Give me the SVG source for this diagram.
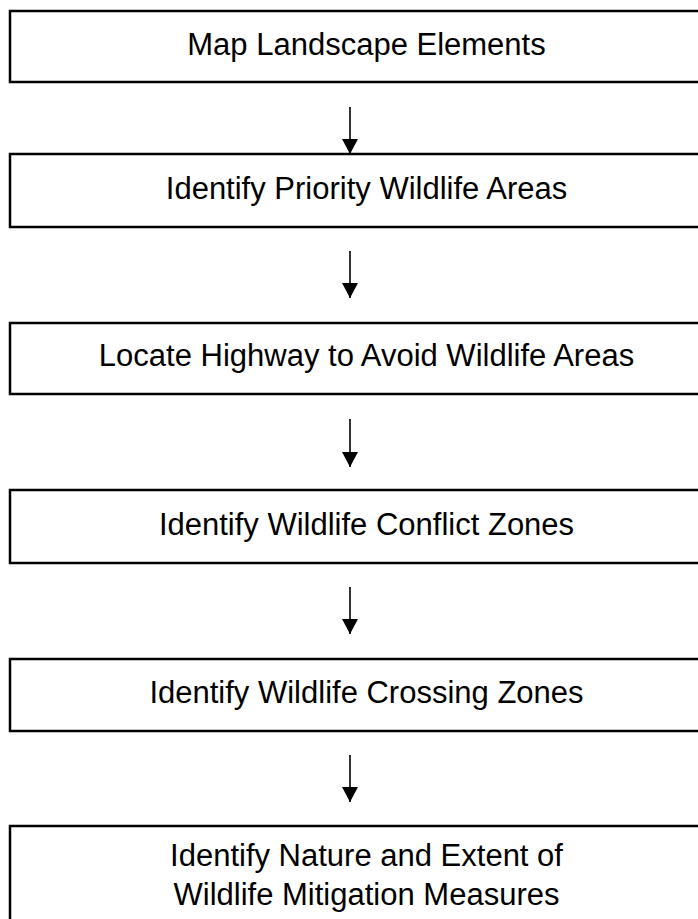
<svg xmlns="http://www.w3.org/2000/svg" width="698" height="919" viewBox="0 0 698 919">
<style>
.box{fill:#fff;stroke:#000;stroke-width:2.5}
.lbl{font-family:"Liberation Sans",Arial,sans-serif;font-size:31px;fill:#000;text-anchor:middle}
.conn{stroke:#000;stroke-width:1.6;fill:none}
</style>
<defs>
<marker id="ah" markerUnits="userSpaceOnUse" markerWidth="16" markerHeight="16" viewBox="0 0 16 16" refX="15" refY="8" orient="auto">
<path d="M0,0 L15,8 L0,16 Z" fill="#000"/>
</marker>
</defs>
<rect width="698" height="919" fill="#fff"/>
<g id="n1"><rect class="box" x="10" y="11" width="720" height="71"/><text class="lbl" x="366.5" y="55">Map Landscape Elements</text></g>
<g id="n2"><rect class="box" x="10" y="154" width="720" height="73"/><text class="lbl" x="366.5" y="199">Identify Priority Wildlife Areas</text></g>
<g id="n3"><rect class="box" x="10" y="323" width="720" height="71"/><text class="lbl" x="366.5" y="366">Locate Highway to Avoid Wildlife Areas</text></g>
<g id="n4"><rect class="box" x="10" y="490" width="720" height="73"/><text class="lbl" x="366.5" y="535">Identify Wildlife Conflict Zones</text></g>
<g id="n5"><rect class="box" x="10" y="659" width="720" height="72"/><text class="lbl" x="366.5" y="703">Identify Wildlife Crossing Zones</text></g>
<g id="n6"><rect class="box" x="10" y="826" width="720" height="120"/><text class="lbl" x="366.5" y="866">Identify Nature and Extent of</text><text class="lbl" x="366.5" y="905">Wildlife Mitigation Measures</text></g>
<g id="connectors">
<line class="conn" x1="350" y1="107" x2="350" y2="154" marker-end="url(#ah)"/>
<line class="conn" x1="350" y1="251" x2="350" y2="298" marker-end="url(#ah)"/>
<line class="conn" x1="350" y1="419" x2="350" y2="467" marker-end="url(#ah)"/>
<line class="conn" x1="350" y1="587" x2="350" y2="634" marker-end="url(#ah)"/>
<line class="conn" x1="350" y1="755" x2="350" y2="802" marker-end="url(#ah)"/>
</g>
</svg>
